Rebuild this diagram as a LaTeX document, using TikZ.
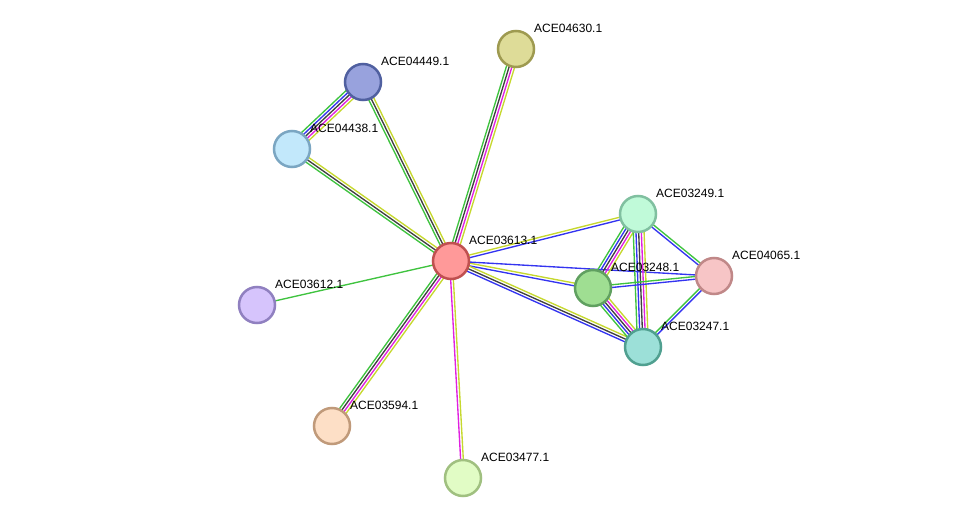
\documentclass[tikz,border=0pt]{standalone}
\usepackage{fontspec}
\setmainfont{Liberation Sans}
\usetikzlibrary{calc,backgrounds}
\definecolor{cgreen}{HTML}{3FC33F}
\definecolor{cblue}{HTML}{3434F0}
\definecolor{cblack}{HTML}{404040}
\definecolor{cmag}{HTML}{E020E0}
\definecolor{cyel}{HTML}{C6D82E}
\tikzset{
  prot/.style={circle, minimum size=36pt, inner sep=0pt, line width=2.5pt},
  lab/.style={anchor=base west, inner sep=0pt, font=\fontsize{12}{14}\selectfont, text=black},
  edgeline/.style={line width=1.35pt},
}
\newcommand\edgelines[3]{%
  \foreach \c [count=\n] in {#3} {\xdef\nlines{\n}}%
  \foreach \c [count=\i] in {#3} {%
    \pgfmathsetmacro\off{(\i-(\nlines+1)/2)*2.7}%
    \draw[edgeline,\c] ($(#1)!\off pt!90:(#2)$) -- ($(#2)!\off pt!-90:(#1)$);
  }}
\begin{document}
\begin{tikzpicture}[x=1pt,y=-1pt]
\useasboundingbox (0,0) rectangle (975,524);
\node[prot, fill={rgb,255:red,255;green,153;blue,153}, draw={rgb,255:red,192;green,80;blue,80}] (n3613) at (451,261) {};
\node[prot, fill={rgb,255:red,222;green,220;blue,152}, draw={rgb,255:red,158;green,154;blue,80}] (n4630) at (516,49) {};
\node[prot, fill={rgb,255:red,152;green,162;blue,221}, draw={rgb,255:red,80;green,96;blue,160}] (n4449) at (363,82) {};
\node[prot, fill={rgb,255:red,194;green,232;blue,251}, draw={rgb,255:red,123;green,166;blue,194}] (n4438) at (292,149) {};
\node[prot, fill={rgb,255:red,214;green,196;blue,252}, draw={rgb,255:red,144;green,128;blue,192}] (n3612) at (257,305) {};
\node[prot, fill={rgb,255:red,253;green,223;blue,198}, draw={rgb,255:red,192;green,154;blue,122}] (n3594) at (332,426) {};
\node[prot, fill={rgb,255:red,225;green,252;blue,197}, draw={rgb,255:red,160;green,192;blue,128}] (n3477) at (463,478) {};
\node[prot, fill={rgb,255:red,192;green,250;blue,217}, draw={rgb,255:red,128;green,192;blue,160}] (n3249) at (638,214) {};
\node[prot, fill={rgb,255:red,247;green,197;blue,198}, draw={rgb,255:red,192;green,136;blue,136}] (n4065) at (714,276) {};
\node[prot, fill={rgb,255:red,159;green,222;blue,146}, draw={rgb,255:red,96;green,160;blue,96}] (n3248) at (593,288) {};
\node[prot, fill={rgb,255:red,156;green,224;blue,216}, draw={rgb,255:red,80;green,160;blue,144}] (n3247) at (643,347) {};
\begin{pgfonlayer}{background}
\edgelines{n4449}{n4438}{cgreen,cblue,cblack,cmag,cyel}
\edgelines{n3613}{n4449}{cyel,cblack,cgreen}
\edgelines{n3613}{n4438}{cyel,cblack,cgreen}
\edgelines{n3613}{n4630}{cyel,cmag,cblack,cgreen}
\edgelines{n3613}{n3612}{cgreen}
\edgelines{n3613}{n3594}{cgreen,cblack,cmag,cyel}
\edgelines{n3613}{n3477}{cmag,cyel}
\edgelines{n3613}{n3249}{cblue,cyel}
\edgelines{n3613}{n3248}{cblue,cyel}
\edgelines{n3613}{n3247}{cblue,cblack,cyel}
\edgelines{n3613}{n4065}{cblue}
\edgelines{n3249}{n3248}{cgreen,cblue,cblack,cmag,cyel}
\edgelines{n3249}{n3247}{cgreen,cblue,cblack,cmag,cyel}
\edgelines{n3248}{n3247}{cgreen,cblue,cblack,cmag,cyel}
\edgelines{n3249}{n4065}{cblue,cgreen}
\edgelines{n3248}{n4065}{cblue,cgreen}
\edgelines{n4065}{n3247}{cgreen,cblue}
\end{pgfonlayer}
\node[lab] (l3613) at ($(n3613)+(18,-16.5)$) {ACE03613.1};
\node[lab] (l4630) at ($(n4630)+(18,-16.5)$) {ACE04630.1};
\node[lab] (l4449) at ($(n4449)+(18,-16.5)$) {ACE04449.1};
\node[lab] (l4438) at ($(n4438)+(18,-16.5)$) {ACE04438.1};
\node[lab] (l3612) at ($(n3612)+(18,-16.5)$) {ACE03612.1};
\node[lab] (l3594) at ($(n3594)+(18,-16.5)$) {ACE03594.1};
\node[lab] (l3477) at ($(n3477)+(18,-16.5)$) {ACE03477.1};
\node[lab] (l3249) at ($(n3249)+(18,-16.5)$) {ACE03249.1};
\node[lab] (l4065) at ($(n4065)+(18,-16.5)$) {ACE04065.1};
\node[lab] (l3248) at ($(n3248)+(18,-16.5)$) {ACE03248.1};
\node[lab] (l3247) at ($(n3247)+(18,-16.5)$) {ACE03247.1};
\end{tikzpicture}
\end{document}
